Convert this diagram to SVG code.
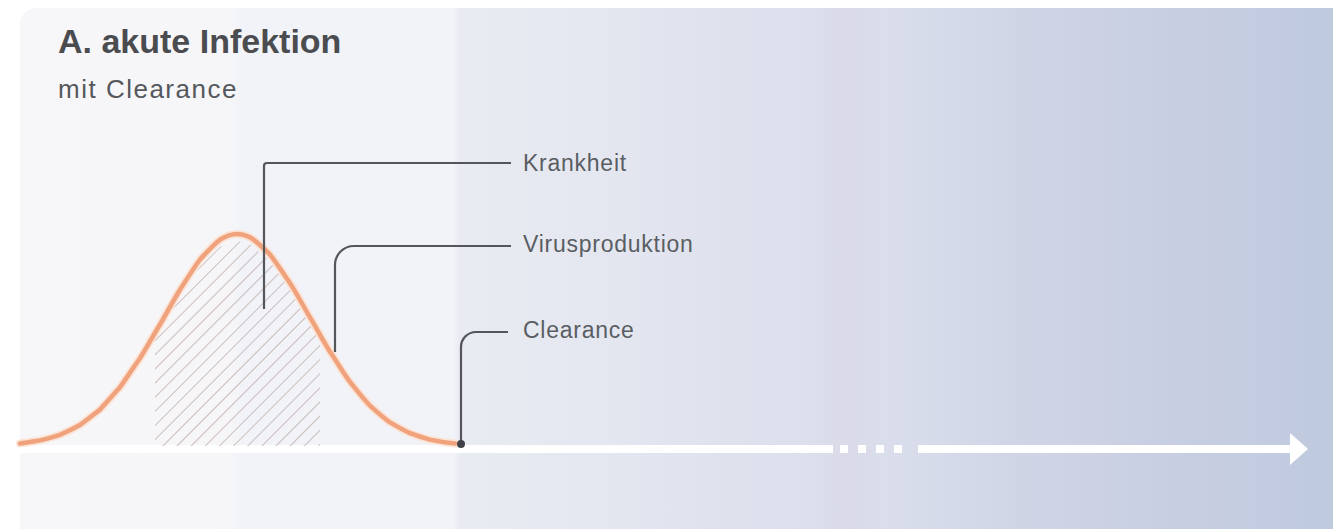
<svg xmlns="http://www.w3.org/2000/svg" width="1333" height="529" viewBox="0 0 1333 529">
  <defs>
    <linearGradient id="panelFill" gradientUnits="userSpaceOnUse" x1="20" y1="0" x2="1333" y2="0">
      <stop offset="0" stop-color="#f7f7fa"/>
      <stop offset="0.16" stop-color="#f6f6f9"/>
      <stop offset="0.17" stop-color="#f1f3f8"/>
      <stop offset="0.33" stop-color="#f2f3f7"/>
      <stop offset="0.335" stop-color="#e9ebf2"/>
      <stop offset="0.45" stop-color="#e4e7f0"/>
      <stop offset="0.6" stop-color="#dcdfec"/>
      <stop offset="0.63" stop-color="#dadae8"/>
      <stop offset="0.66" stop-color="#dadeec"/>
      <stop offset="0.76" stop-color="#d0d5e6"/>
      <stop offset="0.88" stop-color="#c8cee2"/>
      <stop offset="1" stop-color="#bfcadf"/>
    </linearGradient>
    <pattern id="hatch" width="10" height="10" patternUnits="userSpaceOnUse" patternTransform="rotate(45)">
      <line x1="0" y1="0" x2="0" y2="10" stroke="#bfaaa5" stroke-width="1.5"/>
    </pattern>
    <clipPath id="hatchArea">
      <path d="M155,446 L155,340 L160,331.5 L180,296.7 L200,266.5 L220,246.7 L237,241 L250,244.3 L270,261.6 L290,290.1 L310,324.4 L320,341.6 L320,446 Z"/>
    </clipPath>
    <style>
      .leader { fill: none; stroke: #53575c; stroke-width: 2.2; }
      .label { font-family: "Liberation Sans", Arial, sans-serif; font-size: 23px; fill: #5a5e63; letter-spacing: 0.75px; }
      .title { font-family: "Liberation Sans", Arial, sans-serif; font-size: 34px; font-weight: bold; fill: #4b4c50; }
      .subtitle { font-family: "Liberation Sans", Arial, sans-serif; font-size: 26px; fill: #55585c; letter-spacing: 1.5px; }
      .axis { stroke: #ffffff; stroke-width: 8; fill: none; }
    </style>
  </defs>

  <!-- page and shaded panel -->
  <rect x="0" y="0" width="1333" height="529" fill="#ffffff"/>
  <rect x="20" y="8" width="1330" height="540" rx="16" fill="url(#panelFill)"/>

  <!-- heading -->
  <g id="heading">
    <text class="title" x="58" y="53">A. akute Infektion</text>
    <text class="subtitle" x="58" y="98">mit Clearance</text>
  </g>

  <!-- time axis -->
  <g id="axis">
    <line class="axis" x1="20" y1="449" x2="833" y2="449"/>
    <line class="axis" x1="840" y1="449" x2="903" y2="449" stroke-dasharray="8 10"/>
    <line class="axis" x1="918" y1="449" x2="1292" y2="449"/>
    <polygon points="1290,433 1308,449 1290,465" fill="#ffffff"/>
  </g>

  <!-- disease period (hatched) -->
  <g id="krankheit-area">
    <rect x="150" y="230" width="175" height="220" fill="url(#hatch)" clip-path="url(#hatchArea)"/>
  </g>

  <!-- virus production curve -->
  <g id="virusproduktion-curve">
    <path d="M20,443.4 C27,442.5 33,441.5 40,440.4 C47,438.8 53,437 60,434.8 C67,431.8 73,428.8 80,425 C87,420 93,415 100,409.6 C107,402 113,395 120,387.3 C127,377.5 133,368 140,358.3 C147,347 153,336 160,324.5 C167,312.5 173,301 180,289.7 C187,279 193,269 200,259.5 C207,252 213,245 220,239.7 C226,236 231,234 237,234 C242,234 246,235.5 250,237.3 C257,241.5 263,247.5 270,254.6 C277,263.5 283,273 290,283.1 C297,294 303,305.5 310,317.4 C317,329 323,340.5 330,351.8 C337,362 343,372.5 350,382 C357,390.5 363,398.5 370,405.7 C377,412 383,417.5 390,422.4 C397,426.5 403,430 410,433.2 C417,435.7 423,437.8 430,439.6 C438,441.4 446,442.6 455,443.5" fill="none" stroke="#fbe3d6" stroke-width="8" stroke-linecap="round"/>
    <path d="M20,443.4 C27,442.5 33,441.5 40,440.4 C47,438.8 53,437 60,434.8 C67,431.8 73,428.8 80,425 C87,420 93,415 100,409.6 C107,402 113,395 120,387.3 C127,377.5 133,368 140,358.3 C147,347 153,336 160,324.5 C167,312.5 173,301 180,289.7 C187,279 193,269 200,259.5 C207,252 213,245 220,239.7 C226,236 231,234 237,234 C242,234 246,235.5 250,237.3 C257,241.5 263,247.5 270,254.6 C277,263.5 283,273 290,283.1 C297,294 303,305.5 310,317.4 C317,329 323,340.5 330,351.8 C337,362 343,372.5 350,382 C357,390.5 363,398.5 370,405.7 C377,412 383,417.5 390,422.4 C397,426.5 403,430 410,433.2 C417,435.7 423,437.8 430,439.6 C438,441.4 446,442.6 455,443.5" fill="none" stroke="#f0a27c" stroke-width="4.5" stroke-linecap="round"/>
  </g>

  <!-- leader lines -->
  <g id="connectors">
    <path class="leader" d="M264,309 V166 Q264,163 267,163 H511"/>
    <path class="leader" d="M335,352 V265 A19,19 0 0 1 354,246 H511"/>
    <path class="leader" d="M461,444 V347 A15,15 0 0 1 476,332 H508"/>
    <circle cx="461" cy="444" r="4" fill="#3f4348"/>
  </g>

  <!-- labels -->
  <g id="label-krankheit">
    <text class="label" x="523" y="171">Krankheit</text>
  </g>
  <g id="label-virusproduktion">
    <text class="label" x="523" y="252">Virusproduktion</text>
  </g>
  <g id="label-clearance">
    <text class="label" x="523" y="338">Clearance</text>
  </g>
</svg>
